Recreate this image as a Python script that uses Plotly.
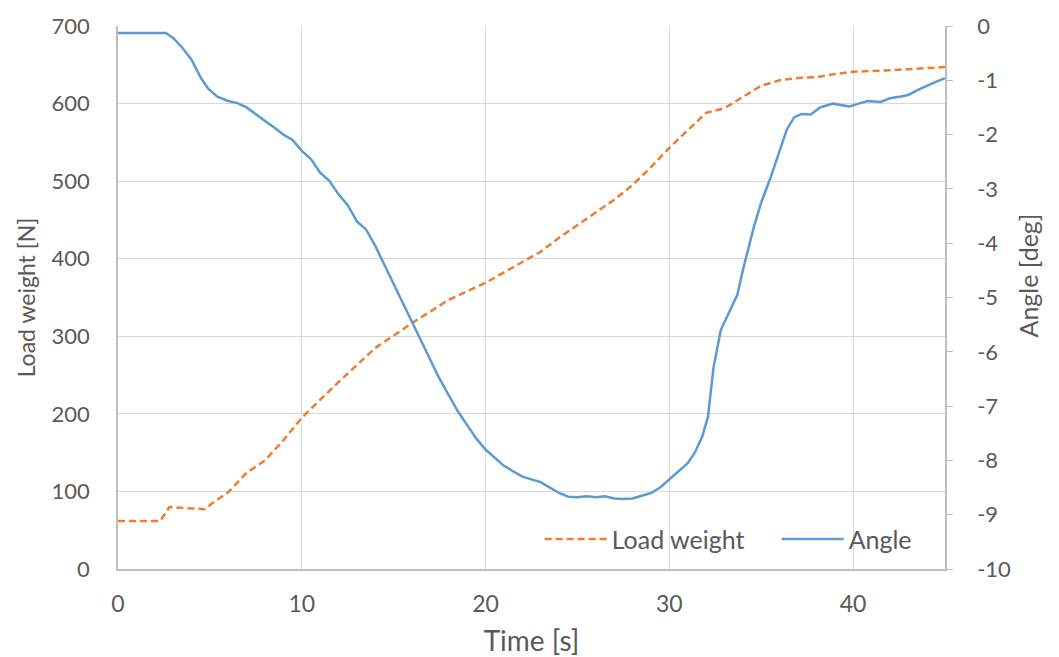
import plotly.graph_objects as go

# ---- data ----
load_t = [0, 1, 2.3, 2.8, 3.5, 4.0, 4.7, 5.2, 6, 7, 8, 9, 10, 12, 14, 16, 18, 20, 22, 23, 24,
          25, 26, 27, 28, 29, 30, 31, 32, 33, 34, 35, 36, 37, 38, 39, 40, 42, 45]
load_v = [62, 62, 62, 80, 79, 78, 77, 86, 99, 124, 140, 166, 195, 241, 285, 317, 347, 369, 396, 409, 427,
          443, 459, 476, 495, 518, 543, 566, 588, 594, 608, 623, 630, 633, 634, 638, 641, 643, 647]

angle_t = [0, 1, 2, 2.6, 3.0, 3.5, 4.0, 4.5, 4.9, 5.4, 6.0, 6.5, 7.0, 7.5, 8.0, 8.5, 9.0, 9.5,
           10.0, 10.5, 11.0, 11.5, 12.0, 12.5, 13.0, 13.5, 14.0, 14.5, 15.0, 15.5, 16.0, 16.5,
           17.0, 17.5, 18.0, 18.5, 19.0, 19.5, 20.0, 20.5, 21.0, 21.5, 22.0, 22.5, 23.0, 23.5,
           24.0, 24.5, 25.0, 25.5, 26.0, 26.5, 27.0, 27.5, 28.0, 28.5, 29.0, 29.5, 30.0, 30.5,
           31.0, 31.4, 31.8, 32.1, 32.4, 32.8, 33.2, 33.7, 34.0, 34.6, 35.0, 35.5, 36.0, 36.4,
           36.8, 37.2, 37.7, 38.2, 38.9, 39.3, 39.8, 40.3, 40.8, 41.5, 42.0, 42.6, 43.0, 43.5,
           44.0, 44.5, 45.0]
angle_v = [-0.13, -0.13, -0.13, -0.13, -0.22, -0.4, -0.62, -0.95, -1.15, -1.3, -1.38, -1.42,
           -1.5, -1.63, -1.75, -1.87, -2.0, -2.1, -2.3, -2.45, -2.7, -2.85, -3.1, -3.3, -3.6,
           -3.75, -4.05, -4.4, -4.75, -5.1, -5.45, -5.8, -6.15, -6.5, -6.8, -7.1, -7.35, -7.6,
           -7.8, -7.95, -8.1, -8.2, -8.3, -8.35, -8.4, -8.5, -8.6, -8.67, -8.68, -8.66, -8.68,
           -8.66, -8.7, -8.71, -8.7, -8.65, -8.6, -8.5, -8.35, -8.2, -8.05, -7.85, -7.55, -7.2,
           -6.3, -5.6, -5.3, -4.95, -4.5, -3.7, -3.25, -2.8, -2.3, -1.9, -1.68, -1.62, -1.63,
           -1.5, -1.43, -1.45, -1.48, -1.43, -1.38, -1.4, -1.33, -1.3, -1.27, -1.18, -1.1,
           -1.03, -0.96]

x_ticks = [0, 10, 20, 30, 40]
left_ticks = [0, 100, 200, 300, 400, 500, 600, 700]
right_ticks = [-10, -9, -8, -7, -6, -5, -4, -3, -2, -1, 0]
right_ticktext = [str(v) for v in right_ticks]
right_title = "Angle [deg]"

FONT = "Lato"
GRAY = "#595959"
GRID = "#d9d9d9"

fig = go.Figure()
fig.add_trace(go.Scatter(x=load_t, y=load_v, name="Load weight", mode="lines",
                         line=dict(color="#ED7D31", width=2.5, dash="7px,4px")))
fig.add_trace(go.Scatter(x=angle_t, y=angle_v, name="Angle", mode="lines", yaxis="y2",
                         line=dict(color="#5B9BD5", width=2.5)))

fig.update_layout(
    width=1059, height=657,
    margin=dict(l=118, r=114, t=26, b=88),
    paper_bgcolor="white", plot_bgcolor="white",
    font=dict(family=FONT, color=GRAY, size=22),
    showlegend=True,
    legend=dict(orientation="h", x=1.083, xanchor="right", y=0.055, yanchor="middle",
                bgcolor="rgba(0,0,0,0)", itemwidth=62, entrywidth=160,
                font=dict(size=25, color=GRAY), traceorder="normal"),
    xaxis=dict(range=[0, 45], tickvals=x_ticks, showgrid=True, gridcolor=GRID, gridwidth=1,
               showline=True, linecolor="#bfbfbf", linewidth=1.5, zeroline=False,
               ticks="", ticklabelstandoff=14, tickfont=dict(size=23), automargin=False,
               title=dict(text="Time [s]", font=dict(size=28, color=GRAY), standoff=16)),
    yaxis=dict(range=[0, 700], tickvals=left_ticks, showgrid=True, gridcolor=GRID, gridwidth=1,
               showline=True, linecolor="#bfbfbf", linewidth=1.5, zeroline=False,
               ticks="", ticklabelstandoff=22, automargin=False,
               title=dict(text="Load weight [N]", font=dict(size=23, color=GRAY), standoff=10)),
    yaxis2=dict(range=[-10, 0], tickvals=right_ticks, ticktext=right_ticktext,
                overlaying="y", side="right", showgrid=False, showline=True,
                linecolor="#bfbfbf", linewidth=1.5, zeroline=False, automargin=False,
                ticks="outside", ticklen=6, tickcolor="#bfbfbf", ticklabelstandoff=20),
    annotations=[dict(text=right_title, xref="paper", yref="paper", x=1.1, y=0.54,
                      xanchor="center", yanchor="middle", textangle=-90, showarrow=False,
                      font=dict(size=25, color=GRAY, family=FONT))],
)

fig.write_html("out.html")
